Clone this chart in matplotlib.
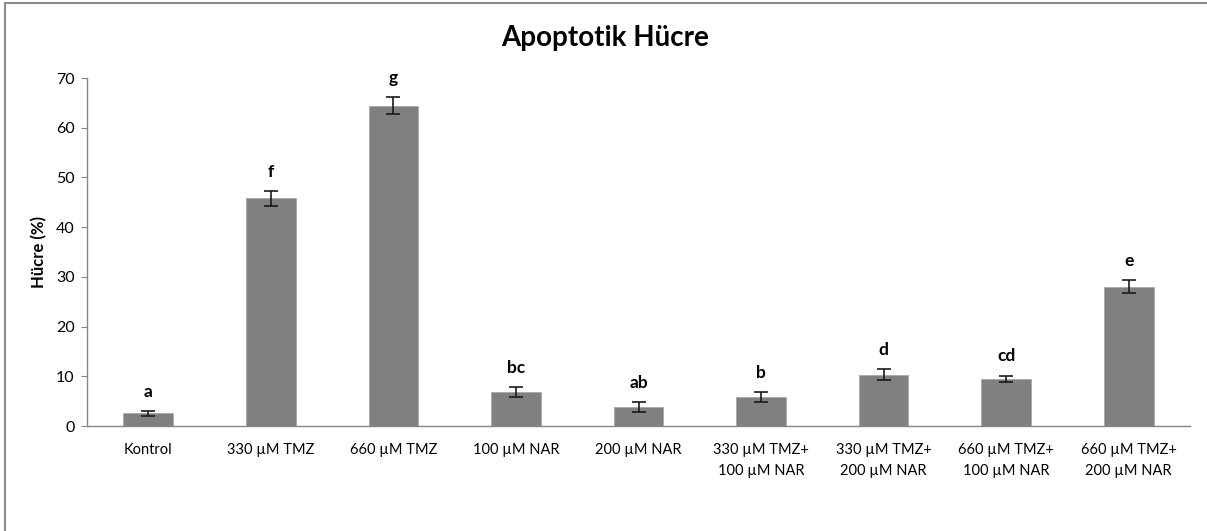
import numpy as np
import matplotlib
matplotlib.use('Agg')
from matplotlib import pyplot as plt
from matplotlib.lines import Line2D

plt.rcParams['font.family'] = ['Lato', 'DejaVu Sans']

groups = ['Kontrol', '330 µM TMZ', '660 µM TMZ', '100 µM NAR', '200 µM NAR',
          '330 µM TMZ+\n100 µM NAR', '330 µM TMZ+\n200 µM NAR',
          '660 µM TMZ+\n100 µM NAR', '660 µM TMZ+\n200 µM NAR']
values = [2.6, 45.8, 64.4, 6.8, 3.8, 5.9, 10.3, 9.5, 28.0]
errors = [0.5, 1.5, 1.7, 1.0, 1.0, 1.0, 1.1, 0.65, 1.3]
letters = ['a', 'f', 'g', 'bc', 'ab', 'b', 'd', 'cd', 'e']

fig = plt.figure(figsize=(12.07, 5.31), dpi=100)
ax = fig.add_axes([0.0721, 0.1977, 0.9138, 0.6553])

x = np.arange(len(groups))
ax.bar(x, values, width=0.406, color='#808080', edgecolor='#a6a6a6', linewidth=0.6,
       yerr=errors, capsize=5, error_kw={'ecolor': '#1a1a1a', 'elinewidth': 1.2, 'capthick': 1.2})

for xi, v, e, t in zip(x, values, errors, letters):
    ax.annotate(t, (xi, v + e), xytext=(0, 8), textcoords='offset points',
                ha='center', va='bottom', fontsize=12.5, fontweight='bold')

ax.set_xlim(-0.5, len(groups) - 0.5)
ax.set_ylim(0, 70)
ax.set_yticks(range(0, 71, 10))
ax.set_xticks(x)
ax.set_xticklabels(groups, fontsize=10.5, linespacing=1.65)
ax.tick_params(axis='x', length=0, pad=12)
ax.tick_params(axis='y', labelsize=11.5, length=4, color='#868686', pad=5)

for s in ['top', 'right']:
    ax.spines[s].set_visible(False)
for s in ['left', 'bottom']:
    ax.spines[s].set_color('#868686')
    ax.spines[s].set_linewidth(1)

ax.set_ylabel('Hücre (%)', fontsize=12, fontweight='bold', labelpad=6)
fig.text(0.501, 0.928, 'Apoptotik Hücre', ha='center', va='center',
         fontsize=20, fontweight='bold')

# chart area border (top and left visible)
fig.add_artist(Line2D([0.004, 1.0], [0.994, 0.994], transform=fig.transFigure,
                      color='#8c8c8c', linewidth=1.5))
fig.add_artist(Line2D([0.004, 0.004], [0.0, 0.994], transform=fig.transFigure,
                      color='#8c8c8c', linewidth=1.5))

fig.savefig('out.png', dpi=100, facecolor='white')
